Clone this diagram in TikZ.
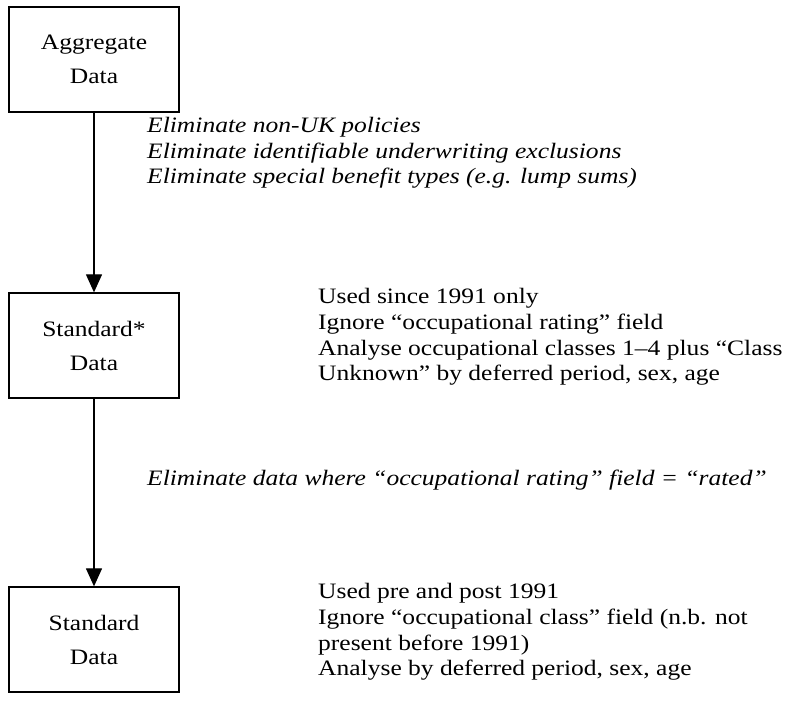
\documentclass[tikz,border=0pt]{standalone}
\usepackage{fontspec}
\setmainfont[FakeStretch=1.16]{Liberation Serif}
\usetikzlibrary{arrows.meta}
\newcommand{\textsize}{\fontsize{22}{25.7}\selectfont}
\tikzset{
  databox/.style={draw, line width=1.3pt, minimum width=170pt, minimum height=105pt,
    align=center, inner sep=0pt, font=\fontsize{22}{34}\selectfont},
  steptext/.style={anchor=west, align=left, inner sep=0pt, font=\textsize\itshape},
  notetext/.style={anchor=west, align=left, inner sep=0pt, font=\textsize},
  flow/.style={-{Triangle[length=18pt,width=16pt]}, line width=1.2pt}
}
\begin{document}
\begin{tikzpicture}[x=1pt, y=-1pt]
      \useasboundingbox (0,0) rectangle (786,704);
      \node[databox] (agg) at (94,59.5) {Aggregate\\Data};
      \node[databox] (stdstar) at (94,345.5) {Standard*\\Data};
      \node[databox] (std) at (94,639.5) {Standard\\Data};
      \node[steptext] (elim1) at (147,153) {Eliminate non-UK policies\\
        Eliminate identifiable underwriting exclusions\\
        Eliminate special benefit types (e.g. lump sums)};
      \node[steptext] (elim2) at (147,480) {Eliminate data where ``occupational rating'' field = ``rated''};
      \node[notetext] (note1) at (318,337) {Used since 1991 only\\
        Ignore ``occupational rating'' field\\
        Analyse occupational classes 1--4 plus ``Class\\
        Unknown'' by deferred period, sex, age};
      \node[notetext] (note2) at (318,632) {Used pre and post 1991\\
        Ignore ``occupational class'' field (n.b. not\\
        present before 1991)\\
        Analyse by deferred period, sex, age};
      \begin{scope}[flow]
        \draw (agg) to (stdstar);
        \draw (stdstar) to (std);
      \end{scope}
    \end{tikzpicture}
\end{document}
